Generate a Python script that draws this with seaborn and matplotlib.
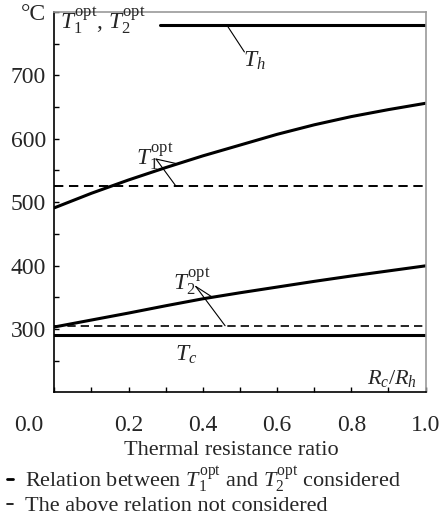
import numpy as np
import pandas as pd
import matplotlib
matplotlib.use("Agg")
import matplotlib.pyplot as plt
import matplotlib.transforms as mtransforms
from matplotlib.lines import Line2D
import seaborn as sns

# Resistance ratio Rc/Rh and optimal intermediate temperatures (°C)
ratio = [0.0, 0.1, 0.2, 0.3, 0.4, 0.5, 0.6, 0.7, 0.8, 0.9, 1.0]
t1_opt = [491, 514, 535, 554.5, 573, 590, 607, 622, 635, 646, 656]
t2_opt = [303, 314, 325, 336.5, 347.5, 357, 366, 375, 383.5, 391.5, 399.5]

# Values when the relation between T1 and T2 is ignored
t1_const = 525
t2_const = 305

# Heat source / sink temperatures
t_hot = 780
t_cold = 290
hot_x = [0.285, 1.0]
cold_x = [0.0, 1.0]

x_ticks = [0.0, 0.2, 0.4, 0.6, 0.8, 1.0]
x_minor = [0.1, 0.3, 0.5, 0.7, 0.9]
y_ticks = [300, 400, 500, 600, 700, 800]
y_labels = ["300", "400", "500", "600", "700", "°C"]
y_minor = [250, 350, 450, 550, 650, 750]

sns.set_style("ticks")
plt.rcParams["font.family"] = ["Liberation Serif", "DejaVu Serif"]
plt.rcParams["mathtext.fontset"] = "custom"
plt.rcParams["mathtext.rm"] = "Liberation Serif"
plt.rcParams["mathtext.it"] = "Liberation Serif:italic"
plt.rcParams["mathtext.bf"] = "Liberation Serif:bold"

fig = plt.figure(figsize=(4.48, 5.22), dpi=100)
ax = fig.add_axes([0.1212, 0.2485, 0.8288, 0.7285])

solid_lw = 2.2
df = pd.DataFrame({"ratio": ratio, "t1": t1_opt, "t2": t2_opt})
sns.lineplot(data=df, x="ratio", y="t1", ax=ax, color="black", lw=solid_lw)
sns.lineplot(data=df, x="ratio", y="t2", ax=ax, color="black", lw=solid_lw)
sns.lineplot(x=cold_x, y=[t1_const] * 2, ax=ax, color="black", lw=1.4,
             dashes=False).lines[-1].set_dashes((4.8, 2.9))
sns.lineplot(x=cold_x, y=[t2_const] * 2, ax=ax, color="black", lw=1.2,
             dashes=False).lines[-1].set_dashes((5.0, 3.0))
sns.lineplot(x=hot_x, y=[t_hot] * 2, ax=ax, color="black", lw=solid_lw)
sns.lineplot(x=cold_x, y=[t_cold] * 2, ax=ax, color="black", lw=solid_lw)

ax.set_xlim(0, 1)
ax.set_ylim(200, 800)
ax.set_xticks(x_ticks)
ax.set_xticklabels([f"{v:.1f}" for v in x_ticks])
ax.set_xticks(x_minor, minor=True)
ax.set_yticks(y_ticks)
ax.set_yticklabels(y_labels)
ax.set_yticks(y_minor, minor=True)
ax.tick_params(axis="both", which="both", direction="in", length=3.4,
               width=1.0, color="black")
ax.tick_params(axis="x", which="major", labelsize=17, pad=16)
ax.tick_params(axis="y", which="major", labelsize=17, pad=6)

for side in ("left", "bottom"):
    ax.spines[side].set_color("black")
    ax.spines[side].set_linewidth(1.2)
for side in ("top", "right"):
    ax.spines[side].set_color("#999999")
    ax.spines[side].set_linewidth(1.2)

ax.set_ylabel("")
ax.set_xlabel("Thermal resistance ratio", fontsize=16)
ax.xaxis.set_label_coords(0.478, -0.152)
ax.xaxis.label.set_va("center")

leader = dict(arrowstyle="-", color="black", lw=0.8, shrinkA=0, shrinkB=0)
label_fs = 17

# T_h
ax.annotate("", xy=(0.464, t_hot), xytext=(0.512, 737), arrowprops=leader)
ax.text(0.508, 714, r"$T_h$", fontsize=label_fs, ha="left", va="baseline")

# T1 opt
x1 = 0.332
ax.annotate("", xy=(x1, np.interp(x1, ratio, t1_opt)), xytext=(0.274, 568),
            arrowprops=leader)
ax.annotate("", xy=(0.328, t1_const), xytext=(0.274, 568), arrowprops=leader)
ax.text(0.22, 560, r"$T_1^{\mathrm{opt}}$", fontsize=label_fs,
        ha="left", va="baseline")

# T2 opt
x2 = 0.426
ax.annotate("", xy=(x2, np.interp(x2, ratio, t2_opt)), xytext=(0.381, 367),
            arrowprops=leader)
ax.annotate("", xy=(0.46, t2_const), xytext=(0.381, 367), arrowprops=leader)
ax.text(0.319, 362, r"$T_2^{\mathrm{opt}}$", fontsize=label_fs,
        ha="left", va="baseline")

# T_c
ax.text(0.325, 250, r"$T_c$", fontsize=label_fs, ha="left", va="baseline")

ax.text(0.015, 774, r"$T_1^{\mathrm{opt}}$, $T_2^{\mathrm{opt}}$",
        fontsize=17, ha="left", va="baseline")
ax.text(0.841, 213, r"$R_c/R_h$", fontsize=16, ha="left", va="baseline")

# the first x tick label sits left of the origin
first = ax.xaxis.get_major_ticks()[0].label1
first.set_transform(first.get_transform()
                    + mtransforms.ScaledTranslation(-0.26, 0, fig.dpi_scale_trans))

handles = [Line2D([], [], color="black", lw=2.0),
           Line2D([], [], color="black", lw=1.2)]
labels = [r"Relation between $T_1^{\mathrm{opt}}$ and $T_2^{\mathrm{opt}}$ considered",
          "The above relation not considered"]
fig.legend(handles, labels, loc="upper left", bbox_to_anchor=(0.015, 0.111),
           frameon=False, fontsize=16, handlelength=0.28, handletextpad=0.55,
           borderpad=0, borderaxespad=0, labelspacing=0.05)

fig.savefig("out.png", dpi=100)
